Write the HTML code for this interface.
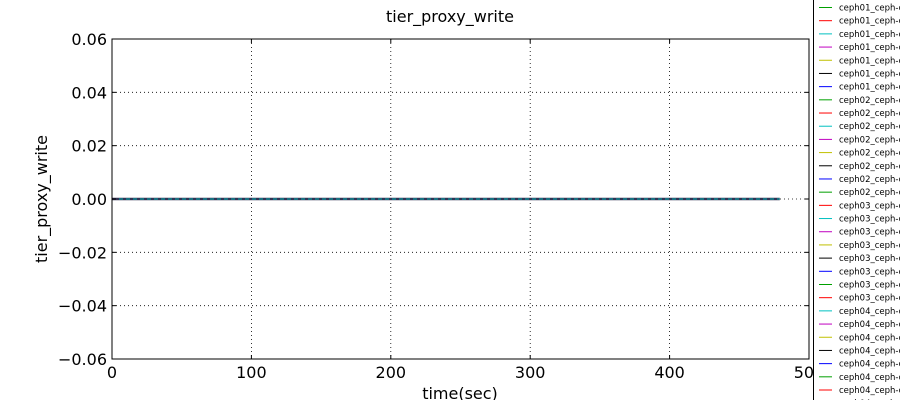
<!DOCTYPE html>
<html><head><meta charset="utf-8"><style>
body{margin:0;background:#fff;width:900px;height:400px;overflow:hidden}
svg{display:block;font-family:"DejaVu Sans","Liberation Sans",sans-serif}
</style></head><body>
<svg id="c" width="900" height="400"></svg>
<script>
const xTicks=[0,100,200,300,400,500];
const yTicks=[-0.06,-0.04,-0.02,0,0.02,0.04,0.06];
const yLabels=["\u22120.06","\u22120.04","\u22120.02","0.00","0.02","0.04","0.06"];
const seriesX=[0,479];
const seriesY=[0,0];
const legendLabels=["ceph01","ceph01","ceph01","ceph01","ceph01","ceph01","ceph01","ceph02","ceph02","ceph02","ceph02","ceph02","ceph02","ceph02","ceph02","ceph03","ceph03","ceph03","ceph03","ceph03","ceph03","ceph03","ceph03","ceph04","ceph04","ceph04","ceph04","ceph04","ceph04","ceph04","ceph04"];
const colors=["#00a000","#ff0000","#00c0c0","#c000c0","#c0c000","#000000","#0000ff"];
const L=112,R=809,T=39,B=359;
const sx=v=>L+(v-0)/(500-0)*(R-L);
const sy=v=>B-(v+0.06)/0.12*(B-T);
const svg=document.getElementById('c');
const NS='http://www.w3.org/2000/svg';
function mk(t,a,p){const e=document.createElementNS(NS,t);for(const k in a)e.setAttribute(k,a[k]);(p||svg).appendChild(e);return e;}
xTicks.forEach(v=>{const e=mk('line',{x1:sx(v),x2:sx(v),y1:T,y2:B,stroke:'#000','stroke-dasharray':'1,3','stroke-width':0.8});

});
yTicks.forEach(v=>{const e=mk('line',{x1:L,x2:R,y1:sy(v),y2:sy(v),stroke:'#000','stroke-dasharray':'1,3','stroke-width':0.8});

});
let d=seriesX.map((x,i)=>(i?'L':'M')+sx(x)+','+sy(seriesY[i])).join(' ');
const s1=mk('path',{d:d,stroke:'#333355',fill:'none','stroke-width':2.5});


const s2=mk('path',{d:d,stroke:'#00b0b0',fill:'none','stroke-width':1,'stroke-dasharray':'4,3'});


const fr=mk('rect',{x:L,y:T,width:R-L,height:B-T,fill:'none',stroke:'#000','stroke-width':1});


xTicks.forEach(v=>{mk('line',{x1:sx(v),x2:sx(v),y1:B,y2:B-4,stroke:'#000'});mk('line',{x1:sx(v),x2:sx(v),y1:T,y2:T+4,stroke:'#000'});
const t=mk('text',{x:sx(v),y:B+19,'text-anchor':'middle','font-size':16});t.textContent=v;

});
yTicks.forEach((v,i)=>{mk('line',{x1:L,x2:L+4,y1:sy(v),y2:sy(v),stroke:'#000'});mk('line',{x1:R,x2:R-4,y1:sy(v),y2:sy(v),stroke:'#000'});
const t=mk('text',{x:L-5,y:sy(v)+6,'text-anchor':'end','font-size':16});t.textContent=yLabels[i];

});
const ti=mk('text',{x:450,y:22,'text-anchor':'middle','font-size':16});ti.textContent='tier_proxy_write';


const xt=mk('text',{x:460,y:399,'text-anchor':'middle','font-size':16});xt.textContent='time(sec)';


const yt=mk('text',{x:47,y:199,'text-anchor':'middle','font-size':16,transform:'rotate(-90 47 199)'});yt.textContent='tier_proxy_write';


const lg=mk('rect',{x:813.5,y:-5,width:100,height:420,fill:'#fff',stroke:'#000','stroke-width':1});


legendLabels.forEach((lab,i)=>{const y=7.5+i*13.19;const c=colors[i%7];
const g=mk('g',{});


mk('line',{x1:819,x2:832,y1:y,y2:y,stroke:c,'stroke-width':1},g);
const t=mk('text',{x:839,y:y+3,'font-size':8.5},g);t.textContent=lab+'_ceph-osd';});
</script>
</body></html>
